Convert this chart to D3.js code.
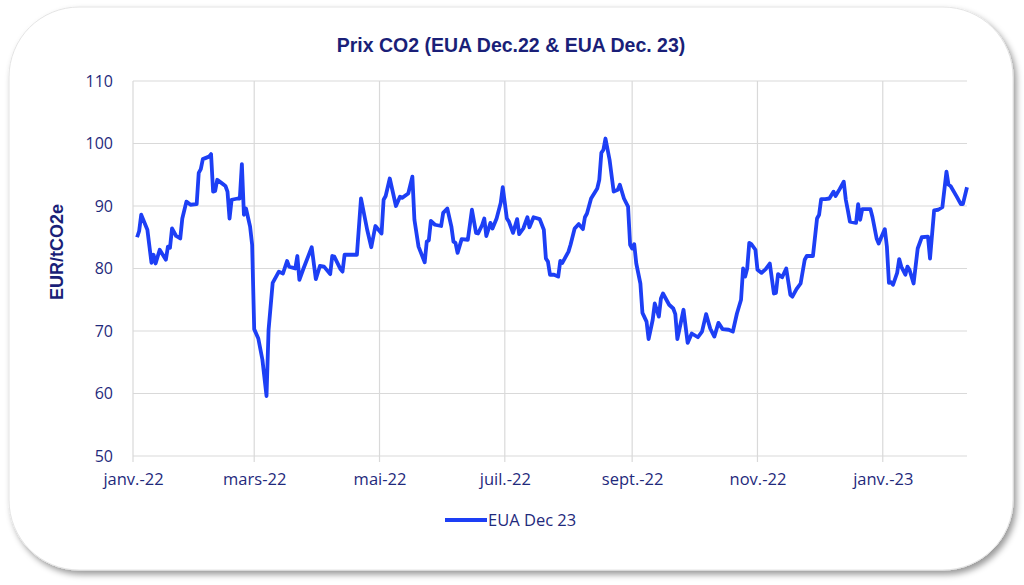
<!DOCTYPE html>
<html>
<head>
<meta charset="utf-8">
<script src="https://cdn.jsdelivr.net/npm/d3@7"></script>
<style>
  html, body { margin: 0; padding: 0; background: #ffffff; }
  svg { display: block; }
</style>
</head>
<body>
<svg></svg>
<script>
// EUA Dec 23 settlement prices
const dates = [
  "2022-01-03","2022-01-04","2022-01-05","2022-01-06","2022-01-08","2022-01-10","2022-01-11","2022-01-12",
  "2022-01-14","2022-01-17","2022-01-18","2022-01-19","2022-01-20","2022-01-22","2022-01-24","2022-01-25",
  "2022-01-27","2022-01-29","2022-02-01","2022-02-02","2022-02-03","2022-02-04","2022-02-07","2022-02-08",
  "2022-02-09","2022-02-10","2022-02-11","2022-02-13","2022-02-15","2022-02-16","2022-02-17","2022-02-18",
  "2022-02-21","2022-02-22","2022-02-23","2022-02-24","2022-02-25","2022-02-27","2022-02-28","2022-03-01",
  "2022-03-03","2022-03-05","2022-03-07","2022-03-08","2022-03-10","2022-03-13","2022-03-15","2022-03-17",
  "2022-03-18","2022-03-21","2022-03-22","2022-03-23","2022-03-25","2022-03-29","2022-03-31","2022-04-02",
  "2022-04-04","2022-04-07","2022-04-08","2022-04-09","2022-04-12","2022-04-13","2022-04-14","2022-04-20",
  "2022-04-22","2022-04-25","2022-04-27","2022-04-29","2022-05-02","2022-05-03","2022-05-04","2022-05-06",
  "2022-05-09","2022-05-11","2022-05-12","2022-05-15","2022-05-17","2022-05-18","2022-05-20","2022-05-23",
  "2022-05-24","2022-05-25","2022-05-26","2022-05-28","2022-05-31","2022-06-01","2022-06-03","2022-06-05",
  "2022-06-06","2022-06-07","2022-06-08","2022-06-10","2022-06-13","2022-06-15","2022-06-17","2022-06-18",
  "2022-06-20","2022-06-21","2022-06-22","2022-06-24","2022-06-25","2022-06-27","2022-06-29","2022-06-30",
  "2022-07-02","2022-07-03","2022-07-05","2022-07-07","2022-07-08","2022-07-10","2022-07-12","2022-07-13",
  "2022-07-15","2022-07-18","2022-07-20","2022-07-21","2022-07-22","2022-07-23","2022-07-25","2022-07-27",
  "2022-07-28","2022-07-29","2022-08-01","2022-08-02","2022-08-04","2022-08-06","2022-08-08","2022-08-09",
  "2022-08-10","2022-08-12","2022-08-15","2022-08-16","2022-08-17","2022-08-18","2022-08-19","2022-08-21",
  "2022-08-23","2022-08-25","2022-08-26","2022-08-28","2022-08-30","2022-08-31","2022-09-01","2022-09-02",
  "2022-09-03","2022-09-05","2022-09-06","2022-09-08","2022-09-09","2022-09-11","2022-09-12","2022-09-14",
  "2022-09-15","2022-09-16","2022-09-19","2022-09-21","2022-09-22","2022-09-23","2022-09-26","2022-09-28",
  "2022-09-30","2022-10-03","2022-10-05","2022-10-07","2022-10-09","2022-10-11","2022-10-13","2022-10-15",
  "2022-10-18","2022-10-20","2022-10-22","2022-10-24","2022-10-25","2022-10-26","2022-10-27","2022-10-28",
  "2022-10-29","2022-10-31","2022-11-01","2022-11-03","2022-11-05","2022-11-07","2022-11-09","2022-11-10",
  "2022-11-11","2022-11-13","2022-11-15","2022-11-17","2022-11-18","2022-11-20","2022-11-22","2022-11-24",
  "2022-11-25","2022-11-28","2022-11-30","2022-12-01","2022-12-02","2022-12-04","2022-12-06","2022-12-08",
  "2022-12-09","2022-12-11","2022-12-13","2022-12-14","2022-12-15","2022-12-16","2022-12-19","2022-12-20",
  "2022-12-21","2022-12-22","2022-12-26","2022-12-27","2022-12-29","2022-12-30","2022-12-31","2023-01-02",
  "2023-01-03","2023-01-04","2023-01-05","2023-01-06","2023-01-08","2023-01-09","2023-01-10","2023-01-12",
  "2023-01-13","2023-01-14","2023-01-16","2023-01-18","2023-01-20","2023-01-23","2023-01-24","2023-01-26",
  "2023-01-28","2023-01-30","2023-02-01","2023-02-02","2023-02-03","2023-02-06","2023-02-08","2023-02-09",
  "2023-02-11"
];
const eua_dec23 = [
  85.0, 86.0, 88.6, 87.8, 86.2, 80.9, 82.2, 80.8,
  83.0, 81.4, 83.5, 83.3, 86.4, 85.2, 84.8, 88.0,
  90.7, 90.2, 90.3, 95.3, 95.9, 97.5, 97.9, 98.3,
  92.3, 92.4, 94.2, 93.7, 93.2, 92.3, 88.0, 91.0,
  91.2, 91.2, 96.7, 88.6, 89.6, 86.7, 83.8, 70.3,
  68.8, 65.4, 59.6, 70.2, 77.7, 79.5, 79.2, 81.2,
  80.3, 80.0, 82.0, 78.2, 80.0, 83.4, 78.3, 80.4,
  80.3, 79.1, 82.0, 81.9, 79.9, 79.5, 82.2, 82.2,
  91.2, 86.2, 83.4, 86.8, 85.6, 91.0, 91.6, 94.4,
  90.0, 91.5, 91.3, 92.0, 94.7, 87.8, 83.5, 81.0,
  84.3, 84.5, 87.6, 87.0, 86.8, 88.9, 89.6, 86.7,
  84.3, 84.1, 82.5, 84.7, 84.6, 89.4, 85.7, 85.6,
  87.0, 88.0, 85.2, 87.3, 86.4, 88.0, 90.5, 93.0,
  88.0, 87.5, 85.7, 87.9, 85.5, 86.4, 88.2, 86.6,
  88.2, 87.9, 86.2, 81.6, 81.1, 79.0, 79.0, 78.7,
  81.2, 80.9, 82.7, 83.8, 86.4, 87.1, 86.3, 88.2,
  88.8, 91.2, 92.8, 94.2, 98.5, 99.0, 100.8, 97.4,
  92.3, 92.6, 93.4, 91.2, 89.9, 83.8, 83.2, 83.9,
  80.8, 77.6, 72.9, 71.5, 68.7, 71.8, 74.4, 72.3,
  75.2, 76.0, 74.2, 73.6, 72.7, 68.7, 73.4, 68.1,
  69.6, 69.0, 69.9, 72.7, 70.4, 69.1, 71.3, 70.3,
  70.2, 69.9, 72.8, 75.0, 80.0, 78.7, 80.0, 84.1,
  83.9, 83.0, 79.8, 79.3, 79.9, 80.8, 76.0, 76.1,
  79.1, 78.6, 80.0, 75.8, 75.5, 76.7, 77.6, 81.4,
  82.0, 82.0, 88.0, 88.6, 91.1, 91.1, 91.2, 92.3,
  91.6, 92.7, 93.9, 91.0, 89.3, 87.5, 87.3, 90.3,
  87.8, 89.5, 89.5, 88.2, 84.8, 84.0, 84.8, 86.3,
  83.5, 77.7, 77.8, 77.4, 79.3, 81.5, 80.3, 79.0,
  80.3, 79.8, 77.6, 83.2, 85.0, 85.1, 81.6, 89.3,
  89.4, 89.8, 95.5, 93.4, 93.2, 91.5, 90.3, 90.3,
  93.0
];
const series_name = "EUA Dec 23";
const x_domain = ["2022-01-01", "2023-02-11"];
const y_ticks = [50, 60, 70, 80, 90, 100, 110];
const x_tick_dates = ["2022-01-01","2022-03-01","2022-05-01","2022-07-01","2022-09-01","2022-11-01","2023-01-01"];
const x_tick_labels = ["janv.-22","mars-22","mai-22","juil.-22","sept.-22","nov.-22","janv.-23"];

const svg_width = 1024;
const svg_height = 585;
const navy = "#1f2a7c";
const title_navy = "#1a1f78";
const line_color = "#1d3ff5";
const grid_color = "#d9d9d9";

const parse = d3.timeParse("%Y-%m-%d");
const data = dates.map((d, i) => ({ date: parse(d), value: eua_dec23[i] }));

const svg = d3.select("svg")
    .attr("width", svg_width)
    .attr("height", svg_height);

// card with shadow
const defs = svg.append("defs");
const shadow = defs.append("filter")
    .attr("id", "shadow")
    .attr("x", "-5%").attr("y", "-5%")
    .attr("width", "115%").attr("height", "120%");
shadow.append("feDropShadow")
    .attr("dx", 3).attr("dy", 4)
    .attr("stdDeviation", 3)
    .attr("flood-color", "#000")
    .attr("flood-opacity", 0.4);

svg.append("rect")
    .attr("x", 9).attr("y", 7)
    .attr("width", 1004).attr("height", 563)
    .attr("rx", 70).attr("ry", 70)
    .attr("fill", "#ffffff")
    .attr("stroke", "#e4e4e4")
    .attr("stroke-width", 1)
    .attr("filter", "url(#shadow)");

const plot = { left: 133, right: 967, top: 81, bottom: 456 };

const x = d3.scaleTime()
    .domain(x_domain.map(parse))
    .range([plot.left, plot.right]);

const y = d3.scaleLinear()
    .domain([50, 110])
    .range([plot.bottom, plot.top]);

// horizontal grid
svg.append("g")
    .attr("class", "y-grid")
    .selectAll("line")
    .data(y_ticks)
    .join("line")
    .attr("x1", plot.left)
    .attr("x2", plot.right)
    .attr("y1", d => y(d))
    .attr("y2", d => y(d))
    .attr("stroke", grid_color)
    .attr("stroke-width", 1.2);

// vertical grid
svg.append("g")
    .attr("class", "x-grid")
    .selectAll("line")
    .data(x_tick_dates.map(parse))
    .join("line")
    .attr("x1", d => x(d))
    .attr("x2", d => x(d))
    .attr("y1", plot.top)
    .attr("y2", plot.bottom + 6)
    .attr("stroke", grid_color)
    .attr("stroke-width", 1.2);

// y axis labels
const yAxis = d3.axisLeft(y)
    .tickValues(y_ticks)
    .tickSize(0)
    .tickPadding(20);

svg.append("g")
    .attr("transform", `translate(${plot.left},0)`)
    .call(yAxis)
    .call(g => g.select(".domain").remove())
    .selectAll("text")
    .attr("fill", navy)
    .style("font-family", "'Open Sans', sans-serif")
    .style("font-size", "16px");

// x axis labels
const xAxis = d3.axisBottom(x)
    .tickValues(x_tick_dates.map(parse))
    .tickFormat((d, i) => x_tick_labels[i])
    .tickSize(0)
    .tickPadding(17);

svg.append("g")
    .attr("transform", `translate(0,${plot.bottom})`)
    .call(xAxis)
    .call(g => g.select(".domain").remove())
    .selectAll("text")
    .attr("fill", navy)
    .style("font-family", "'Open Sans', sans-serif")
    .style("font-size", "16.5px");

// series line
const line = d3.line()
    .x(d => x(d.date))
    .y(d => y(d.value));

svg.append("path")
    .datum(data)
    .attr("fill", "none")
    .attr("stroke", line_color)
    .attr("stroke-width", 3.8)
    .attr("stroke-linejoin", "round")
    .attr("d", line);

// title
svg.append("text")
    .attr("x", 511)
    .attr("y", 52)
    .attr("text-anchor", "middle")
    .attr("fill", title_navy)
    .style("font-family", "'Liberation Sans', Arial, sans-serif")
    .style("font-weight", "bold")
    .style("font-size", "19.5px")
    .text("Prix CO2 (EUA Dec.22 & EUA Dec. 23)");

// y axis title
svg.append("text")
    .attr("transform", "translate(63,252) rotate(-90)")
    .attr("text-anchor", "middle")
    .attr("fill", title_navy)
    .style("font-family", "'Liberation Sans', Arial, sans-serif")
    .style("font-weight", "bold")
    .style("font-size", "18px")
    .text("EUR/tCO2e");

// legend
const legend = svg.append("g")
    .attr("transform", "translate(445,520)");

legend.append("line")
    .attr("x1", 0).attr("x2", 42)
    .attr("y1", 0).attr("y2", 0)
    .attr("stroke", line_color)
    .attr("stroke-width", 4);

legend.append("text")
    .attr("x", 43)
    .attr("y", 6)
    .attr("fill", navy)
    .style("font-family", "'Open Sans', sans-serif")
    .style("font-size", "16.5px")
    .text(series_name);
</script>
</body>
</html>
